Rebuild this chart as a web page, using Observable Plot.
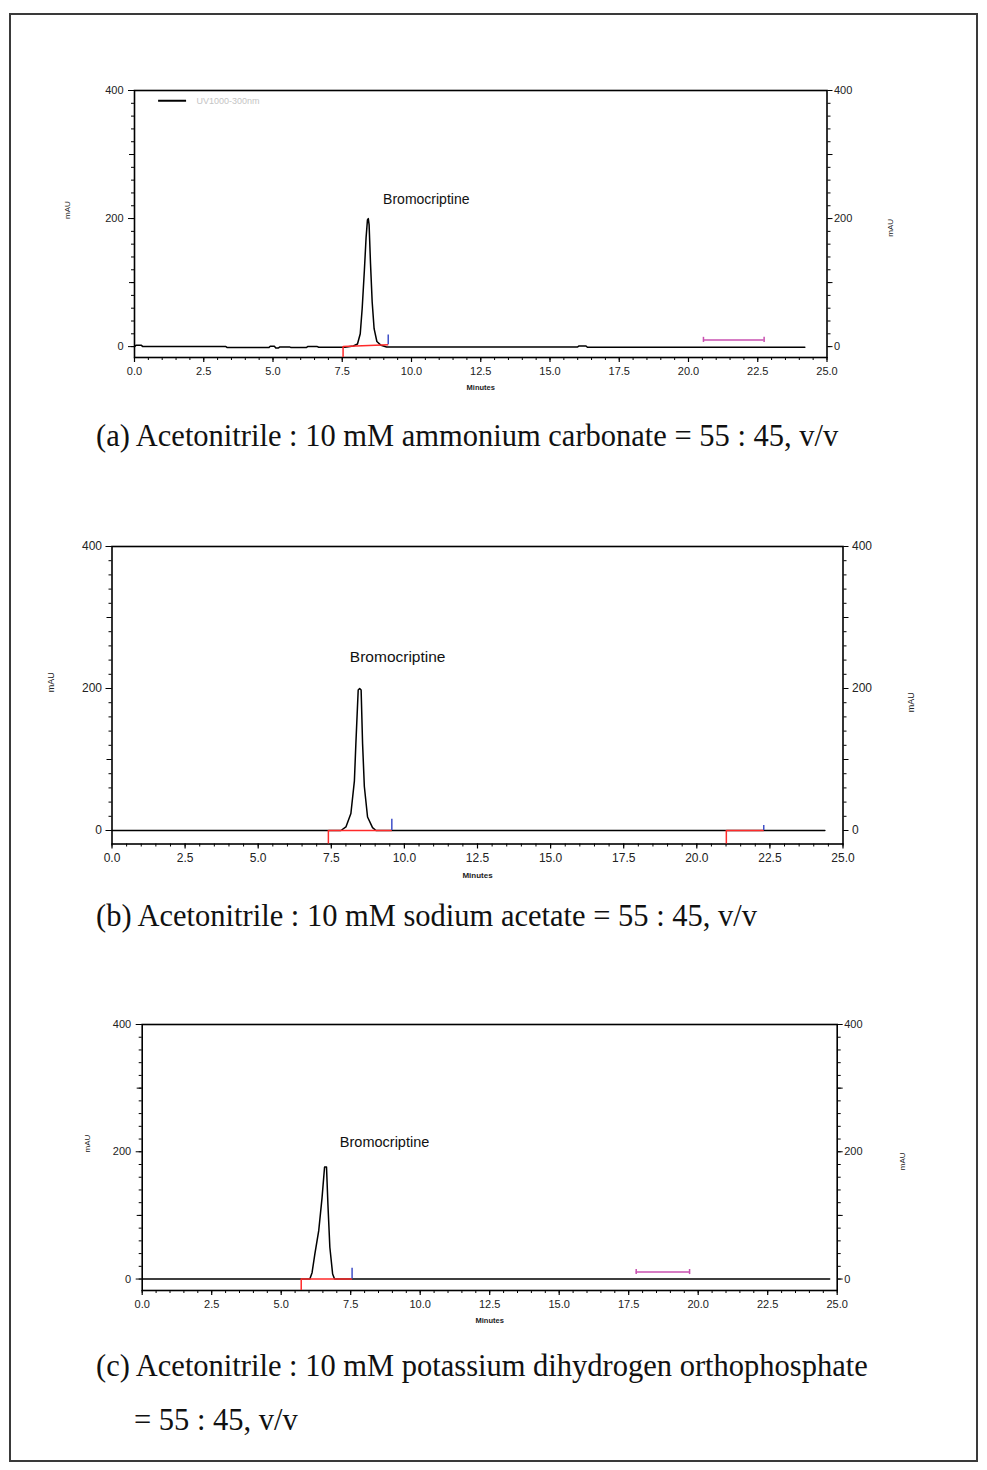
<!DOCTYPE html>
<html><head><meta charset="utf-8">
<script src="https://cdn.jsdelivr.net/npm/d3@7"></script>
<script src="https://cdn.jsdelivr.net/npm/@observablehq/plot@0.6"></script>
<style>
html,body{margin:0;padding:0;background:#fff;}
#page{position:relative;width:987px;height:1470px;overflow:hidden;background:#fff;}
#border{position:absolute;left:9px;top:13px;width:969px;height:1449px;border:2px solid #3a3a3a;box-sizing:border-box;}
.panel{position:absolute;left:0;}
.cap{position:absolute;font-family:"Liberation Serif","Times New Roman",serif;font-size:30.5px;line-height:30px;color:#111;white-space:nowrap;}
</style></head><body>
<div id="page"><div id="border"></div></div>
<script>
// ---------- data ----------
const xMajor = [0, 2.5, 5, 7.5, 10, 12.5, 15, 17.5, 20, 22.5, 25];
const xMinor = d3.range(0, 25.01, 0.5);
const yMajor = [0, 200, 400];
const yMid = [100, 300];
const yMinor = d3.range(0, 401, 20);
const peakName = "Bromocriptine";
const legendLabel = "UV1000-300nm";

// (a) ammonium carbonate
const aTime =   [0, 0.05, 0.1, 0.25, 0.3, 3.3, 3.35, 4.85, 4.9, 5.05, 5.1, 5.2, 5.25, 5.6, 5.65, 6.2, 6.25, 6.6, 6.65, 7.6, 7.9, 8.05, 8.15, 8.22, 8.30, 8.36, 8.41, 8.44, 8.47, 8.52, 8.58, 8.65, 8.75, 8.9, 9.1, 16.0, 16.05, 16.3, 16.35, 24.2];
const aSignal = [0, 2, 2, 2, 0, 0, -1.5, -1.5, 0.5, 0.5, -2, -2, -0.5, -0.5, -1.5, -1.5, 0, 0, -1, -1, 1, 4, 20, 60, 120, 170, 198, 200, 190, 130, 70, 28, 8, 2, -0.5, -0.5, 1, 1, -1, -1];
const aIntegration = [{start: 7.53, end: 9.16, startLevel: 0, endLevel: 3, endMark: 18}];
const aWindow = [{from: 20.54, to: 22.73, level: 10.5}];
const aLegend = [{x1: 0.87, x2: 1.88, level: 384, textX: 2.24}];

// (b) sodium acetate
const bTime =   [0, 7.83, 8.0, 8.17, 8.29, 8.34, 8.42, 8.47, 8.52, 8.57, 8.63, 8.74, 8.91, 9.03, 24.38];
const bSignal = [0, 0, 5, 24, 70, 122, 198, 200, 198, 122, 62, 19, 4, 0, 0];
const bIntegration = [
  {start: 7.40, end: 9.57, startLevel: 0, endLevel: 0, endMark: 16},
  {start: 21.01, end: 22.29, startLevel: 0, endLevel: 0, endMark: 7}
];
const bWindow = [];

// (c) potassium dihydrogen orthophosphate
const cTime =   [0, 6.03, 6.11, 6.21, 6.35, 6.47, 6.56, 6.63, 6.68, 6.75, 6.85, 6.92, 24.73];
const cSignal = [0, 0, 10, 39, 76, 128, 176, 176, 118, 50, 8, 0, 0];
const cIntegration = [{start: 5.72, end: 7.55, startLevel: 0, endLevel: 0, endMark: 17}];
const cWindow = [{from: 17.77, to: 19.69, level: 11}];

const captionA = "(a) Acetonitrile : 10 mM ammonium carbonate = 55 : 45, v/v";
const captionB = "(b) Acetonitrile : 10 mM sodium acetate = 55 : 45, v/v";
const captionC1 = "(c) Acetonitrile : 10 mM potassium dihydrogen orthophosphate";
const captionC2 = "= 55 : 45, v/v";

// ---------- drawing ----------
const W = 987;
const FONT = "Liberation Sans, Arial, sans-serif";
const page = document.getElementById("page");

function drawPanel(c) {
  const trace = c.time.map((t, i) => ({t, v: c.signal[i]}));
  const apex = trace.reduce((a, b) => (b.v > a.v ? b : a));
  const red = "#ff2a2a", blue = "#3f4fc8", magenta = "#c850b0";
  const marks = [
    Plot.frame({stroke: "#000", strokeWidth: 1.6}),
    Plot.axisX(xMinor, {anchor: "bottom", tickSize: 3, tickFormat: () => "", label: null, strokeWidth: 1}),
    Plot.axisX(xMajor, {anchor: "bottom", tickSize: 5, tickPadding: c.xPad, tickFormat: d => d.toFixed(1), fontSize: c.fs, label: null, strokeWidth: 1.2, fill: "#222"}),
    Plot.axisY(yMinor, {anchor: "left", tickSize: 3, tickFormat: () => "", label: null}),
    Plot.axisY(yMid, {anchor: "left", tickSize: 5, tickFormat: () => "", label: null}),
    Plot.axisY(yMajor, {anchor: "left", tickSize: 6, tickPadding: c.padL, fontSize: c.fs, label: null, fill: "#222"}),
    Plot.axisY(yMinor, {anchor: "right", tickSize: 3, tickFormat: () => "", label: null}),
    Plot.axisY(yMid, {anchor: "right", tickSize: 5, tickFormat: () => "", label: null}),
    Plot.axisY(yMajor, {anchor: "right", tickSize: 5, tickPadding: c.padR, fontSize: c.fs, label: null, fill: "#222"}),
    Plot.line(trace, {x: "t", y: "v", stroke: "#000", strokeWidth: 1.5}),
    Plot.ruleX(c.integ, {x: "start", y1: "startLevel", y2: () => c.yMin, stroke: red, strokeWidth: 1.5}),
    Plot.link(c.integ, {x1: "start", y1: "startLevel", x2: "end", y2: "endLevel", stroke: red, strokeWidth: 1.5}),
    Plot.ruleX(c.integ, {x: "end", y1: "endLevel", y2: "endMark", stroke: blue, strokeWidth: 1.5}),
    Plot.ruleY(c.win, {y: "level", x1: "from", x2: "to", stroke: magenta, strokeWidth: 1.5}),
    Plot.ruleX(c.win, {x: "from", y1: d => d.level - 4, y2: d => d.level + 4, stroke: magenta, strokeWidth: 1.5}),
    Plot.ruleX(c.win, {x: "to", y1: d => d.level - 4, y2: d => d.level + 4, stroke: magenta, strokeWidth: 1.5}),
    Plot.text([apex], {x: "t", y: "v", text: () => peakName, dx: c.labelDx, dy: c.labelDy, fontSize: c.labelFs, fill: "#111"}),
    Plot.text(["Minutes"], {frameAnchor: "bottom", dy: c.minutesDy, fontSize: c.minFs, fontWeight: "bold", fill: "#222"}),
    Plot.text(["mAU"], {frameAnchor: "left", dx: -c.mauL, dy: c.mauDy, rotate: -90, fontSize: c.mauFs, fill: "#222"}),
    Plot.text(["mAU"], {frameAnchor: "right", dx: c.mauR, dy: c.mauDy, rotate: -90, fontSize: c.mauFs, fill: "#222"})
  ];
  if (c.legend) {
    marks.push(Plot.ruleY(c.legend, {y: "level", x1: "x1", x2: "x2", stroke: "#000", strokeWidth: 2}));
    marks.push(Plot.text(c.legend, {x: "textX", y: "level", text: () => legendLabel, textAnchor: "start", fontSize: 9, fill: "#c4c4c4"}));
  }
  const svg = Plot.plot({
    width: W, height: c.height,
    marginLeft: c.left, marginRight: W - c.right,
    marginTop: c.topY - c.top, marginBottom: c.top + c.height - c.bottomY,
    x: {domain: [0, 25]},
    y: {domain: [c.yMin, 400]},
    style: {fontFamily: FONT, background: "transparent", overflow: "visible"},
    marks
  });
  svg.classList.add("panel");
  svg.style.position = "absolute";
  svg.style.left = "0px";
  svg.style.top = c.top + "px";
  page.appendChild(svg);
}

drawPanel({time: aTime, signal: aSignal, integ: aIntegration, win: aWindow, legend: aLegend,
  top: 60, height: 360, left: 134, right: 826.5, topY: 90, bottomY: 357, yMin: -17,
  fs: 11, xPad: 5, padL: 5, padR: 2, labelFs: 14, labelDx: 58, labelDy: -19,
  minFs: 7.5, minutesDy: 32, mauL: 67, mauR: 63, mauDy: -5, mauFs: 8});

drawPanel({time: bTime, signal: bSignal, integ: bIntegration, win: bWindow, legend: null,
  top: 500, height: 400, left: 111.5, right: 842.5, topY: 546, bottomY: 843.5, yMin: -19,
  fs: 12, xPad: 4, padL: 4, padR: 4, labelFs: 15.5, labelDx: 38, labelDy: -31,
  minFs: 8, minutesDy: 34, mauL: 61, mauR: 68, mauDy: -3, mauFs: 9});

drawPanel({time: cTime, signal: cSignal, integ: cIntegration, win: cWindow, legend: null,
  top: 990, height: 350, left: 141.7, right: 836.7, topY: 1024, bottomY: 1290, yMin: -18,
  fs: 11, xPad: 5, padL: 5, padR: 2, labelFs: 14.5, labelDx: 60, labelDy: -25,
  minFs: 7.5, minutesDy: 32, mauL: 55, mauR: 65, mauDy: -5, mauFs: 8});

function caption(text, left, top) {
  const d = document.createElement("div");
  d.className = "cap";
  d.style.left = left + "px";
  d.style.top = top + "px";
  d.textContent = text;
  page.appendChild(d);
}
caption(captionA, 96, 421);
caption(captionB, 96, 901);
caption(captionC1, 96, 1351);
caption(captionC2, 134, 1405);
</script>
</body></html>
